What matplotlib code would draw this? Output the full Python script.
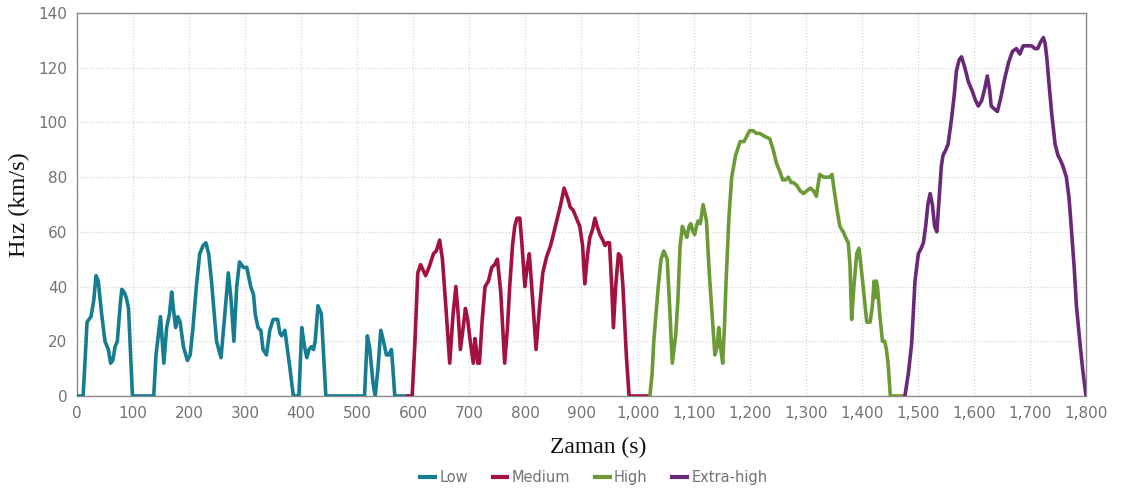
import matplotlib
matplotlib.use("Agg")
import matplotlib.pyplot as plt
from matplotlib.ticker import FuncFormatter, MultipleLocator
from matplotlib.lines import Line2D

# Speed profile breakpoints (time in s, speed in km/h) for each phase
low_t = [0, 11, 15, 18, 25, 30, 34, 38, 44, 50, 56, 60, 64, 68, 72, 77, 80, 84, 88, 92, 99,
         137, 141, 145, 149, 155, 160, 165, 169, 172, 176, 180, 184, 190, 197, 202, 207, 213,
         219, 225, 230, 235, 240, 249, 257, 263, 270, 275, 280, 285, 290, 297, 303, 310, 315,
         318, 323, 328, 332, 338, 344, 350, 358, 362, 365, 371, 380, 386, 390, 396, 401, 406,
         410, 414, 418, 422, 425, 430, 436, 444, 513, 518, 522, 528, 532, 537, 542, 547, 552,
         556, 561, 564, 567, 589]
low_v = [0, 0, 15, 27, 29, 35, 44, 42, 30, 20, 17, 12, 13, 18, 20, 33, 39, 38, 36, 32, 0,
         0, 15, 22, 29, 12, 25, 30, 38, 32, 25, 29, 27, 18, 13, 15, 25, 40,
         52, 55, 56, 52, 42, 20, 14, 28, 45, 35, 20, 40, 49, 47, 47, 40, 37,
         30, 25, 24, 17, 15, 24, 28, 28, 23, 22, 24, 10, 0, 0, 0, 25, 18,
         14, 17, 18, 17, 20, 33, 30, 0, 0, 22, 18, 5, 0, 10, 24, 20, 15,
         15, 17, 9, 0, 0]

med_t = [589, 598, 603, 608, 613, 622, 628, 636, 641, 647, 652, 659, 665, 671, 676, 680, 684,
         689, 693, 697, 701, 707, 710, 712, 715, 718, 723, 728, 734, 740, 745, 750, 756, 763,
         768, 772, 777, 781, 785, 790, 794, 799, 803, 807, 813, 819, 825, 831, 838, 845, 851,
         857, 863, 869, 876, 880, 885, 891, 897, 902, 906, 911, 915, 920, 924, 928, 933, 938,
         942, 946, 950, 954, 957, 961, 966, 970, 974, 980, 985, 1022]
med_v = [0, 0, 20, 45, 48, 44, 47, 52, 53, 57, 50, 30, 12, 30, 40, 30, 17,
         25, 32, 28, 21, 12, 21, 18, 12, 12, 28, 40, 42, 47, 48, 50, 38, 12,
         25, 40, 55, 62, 65, 65, 55, 40, 47, 52, 35, 17, 32, 45, 51, 55, 60,
         65, 70, 76, 72, 69, 68, 65, 62, 55, 41, 52, 58, 61, 65, 62, 59, 57,
         55, 56, 56, 40, 25, 40, 52, 51, 40, 15, 0, 0]

high_t = [1022, 1026, 1029, 1033, 1037, 1042, 1047, 1053, 1058, 1062, 1068, 1072, 1076, 1080,
          1084, 1088, 1092, 1095, 1099, 1102, 1105, 1108, 1112, 1117, 1123, 1128, 1133, 1138,
          1142, 1145, 1148, 1152, 1155, 1158, 1163, 1168, 1175, 1183, 1190, 1195, 1200, 1206,
          1212, 1218, 1226, 1236, 1242, 1248, 1254, 1259, 1264, 1269, 1274, 1278, 1284, 1290,
          1296, 1302, 1308, 1314, 1319, 1322, 1325, 1332, 1338, 1343, 1347, 1351, 1356, 1361,
          1364, 1367, 1371, 1376, 1379, 1382, 1386, 1391, 1395, 1400, 1405, 1409, 1415, 1419,
          1422, 1424, 1426, 1428, 1432, 1437, 1441, 1444, 1447, 1451, 1477]
high_v = [0, 8, 20, 30, 40, 50, 53, 50, 30, 12, 22, 35, 55, 62,
          60, 58, 62, 63, 60, 59, 62, 64, 63, 70, 64, 45, 30, 15,
          18, 25, 18, 12, 25, 42, 65, 80, 88, 93, 93, 95, 97, 97,
          96, 96, 95, 94, 90, 85, 82, 79, 79, 80, 78, 78, 77, 75,
          74, 75, 76, 75, 73, 77, 81, 80, 80, 80, 81, 75, 68, 62,
          61, 60, 58, 56, 48, 28, 40, 52, 54, 45, 35, 27, 27, 33,
          42, 36, 42, 40, 30, 20, 20, 17, 12, 0, 0]

xh_t = [1477, 1483, 1489, 1495, 1501, 1506, 1510, 1514, 1518, 1522, 1526, 1530, 1534, 1538,
        1542, 1545, 1550, 1554, 1560, 1565, 1569, 1574, 1578, 1584, 1590, 1594, 1598, 1603,
        1608, 1614, 1619, 1624, 1628, 1631, 1636, 1642, 1648, 1655, 1662, 1669, 1676, 1682,
        1688, 1697, 1703, 1709, 1714, 1718, 1724, 1727, 1730, 1735, 1739, 1745, 1750, 1755,
        1759, 1765, 1770, 1774, 1779, 1783, 1789, 1794, 1800]
xh_v = [0, 8, 19, 42, 52, 54, 56, 62, 70, 74, 70, 62, 60, 72,
        84, 88, 90, 92, 101, 110, 119, 123, 124, 120, 115, 113, 111, 108,
        106, 108, 112, 117, 112, 106, 105, 104, 109, 116, 122, 126, 127, 125,
        128, 128, 128, 127, 127, 129, 131, 129, 124, 112, 103, 92, 88, 86,
        84, 80, 72, 61, 47, 33, 20, 10, 0]

phase_names = ["Low", "Medium", "High", "Extra-high"]
phase_colors = ["#167d91", "#a3123f", "#6b9a36", "#6a2878"]

TICK_FONT = "DejaVu Sans"

fig = plt.figure(figsize=(11.25, 4.91), dpi=100)
ax = fig.add_axes([0.0684, 0.1935, 0.8969, 0.78])

series = [(low_t, low_v), (med_t, med_v), (high_t, high_v), (xh_t, xh_v)]
for (t, v), c in zip(series, phase_colors):
    ax.plot(t, v, color=c, lw=2.6, solid_joinstyle="round", solid_capstyle="round", zorder=3)

ax.set_xlim(0, 1800)
ax.set_ylim(0, 140)
ax.xaxis.set_major_locator(MultipleLocator(100))
ax.yaxis.set_major_locator(MultipleLocator(20))
ax.xaxis.set_major_formatter(FuncFormatter(lambda x, p: f"{int(x):,}"))

ax.grid(True, color="#d6d6d6", linestyle=(0, (1, 1.5)), linewidth=0.9)
ax.set_axisbelow(True)
for s in ax.spines.values():
    s.set_color("#8a8a8a")
    s.set_linewidth(1.0)
ax.tick_params(length=0, labelsize=11, labelcolor="#737373", pad=7)
for lab in ax.get_xticklabels() + ax.get_yticklabels():
    lab.set_family(TICK_FONT)

ax.set_ylabel("Hız (km/s)", family="Liberation Serif", fontsize=17.5, color="#111111", labelpad=6)
fig.text(0.532, 0.088, "Zaman (s)", family="Liberation Serif", fontsize=17,
         color="#111111", ha="center", va="center")

handles = [Line2D([0], [0], color=c, lw=3) for c in phase_colors]
fig.legend(handles, phase_names, loc="center", bbox_to_anchor=(0.528, 0.028), ncol=4,
           frameon=False, handlelength=1.0, handletextpad=0.3, columnspacing=1.7,
           prop={"family": TICK_FONT, "size": 10.5}, labelcolor="#737373")

fig.savefig("out.png", dpi=100)
